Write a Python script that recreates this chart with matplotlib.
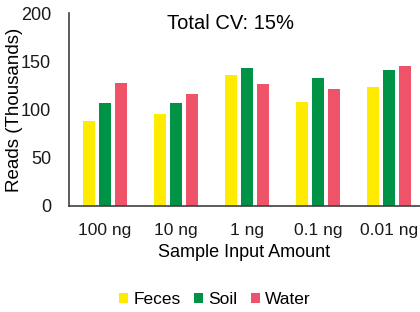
import matplotlib.pyplot as plt
import numpy as np

plt.rcParams["font.family"] = ["Liberation Sans", "DejaVu Sans"]

amounts = ["100 ng", "10 ng", "1 ng", "0.1 ng", "0.01 ng"]
feces = [88, 95, 136, 108, 123]
soil = [107, 107, 143, 133, 141]
water = [127, 116, 126, 121, 145]

fig = plt.figure(figsize=(4.2, 3.12), dpi=100)
ax = fig.add_axes([69 / 420, 0.34, 1 - 69 / 420, 0.958 - 0.34])

x = np.arange(len(amounts))
w = 0.17
off = 0.225
ax.bar(x - off, feces, w, color="#FFEB00", label="Feces")
ax.bar(x, soil, w, color="#009245", label="Soil")
ax.bar(x + off, water, w, color="#EF5369", label="Water")

ax.set_xlim(-0.507, 4.44)
ax.set_ylim(0, 200)
ax.set_yticks([0, 50, 100, 150, 200])
ax.set_xticks(x)
ax.set_xticklabels(amounts)
ax.tick_params(length=0, labelsize=12.5, colors="#1a1a1a")
ax.tick_params(axis="y", labelsize=13, pad=13)
ax.tick_params(axis="x", pad=12)
for s in ("top", "right"):
    ax.spines[s].set_visible(False)
for s in ("left", "bottom"):
    ax.spines[s].set_color("#404040")
    ax.spines[s].set_linewidth(1.2)

ax.set_ylabel("Reads (Thousands)", fontsize=13.5, va="center")
ax.yaxis.set_label_coords(-0.154, 0.5)
ax.set_xlabel("Sample Input Amount", fontsize=13, va="center")
ax.xaxis.set_label_coords(0.5, -0.24)
ax.text(0.46, 0.945, "Total CV: 15%", transform=ax.transAxes, ha="center",
        va="center", fontsize=14.5)

fig.legend(loc="center", bbox_to_anchor=(0.512, 0.04), ncol=3, frameon=False,
           fontsize=12.5, handlelength=0.5, handleheight=0.5,
           handletextpad=0.3, columnspacing=0.8)

fig.savefig("out.png", dpi=100)
